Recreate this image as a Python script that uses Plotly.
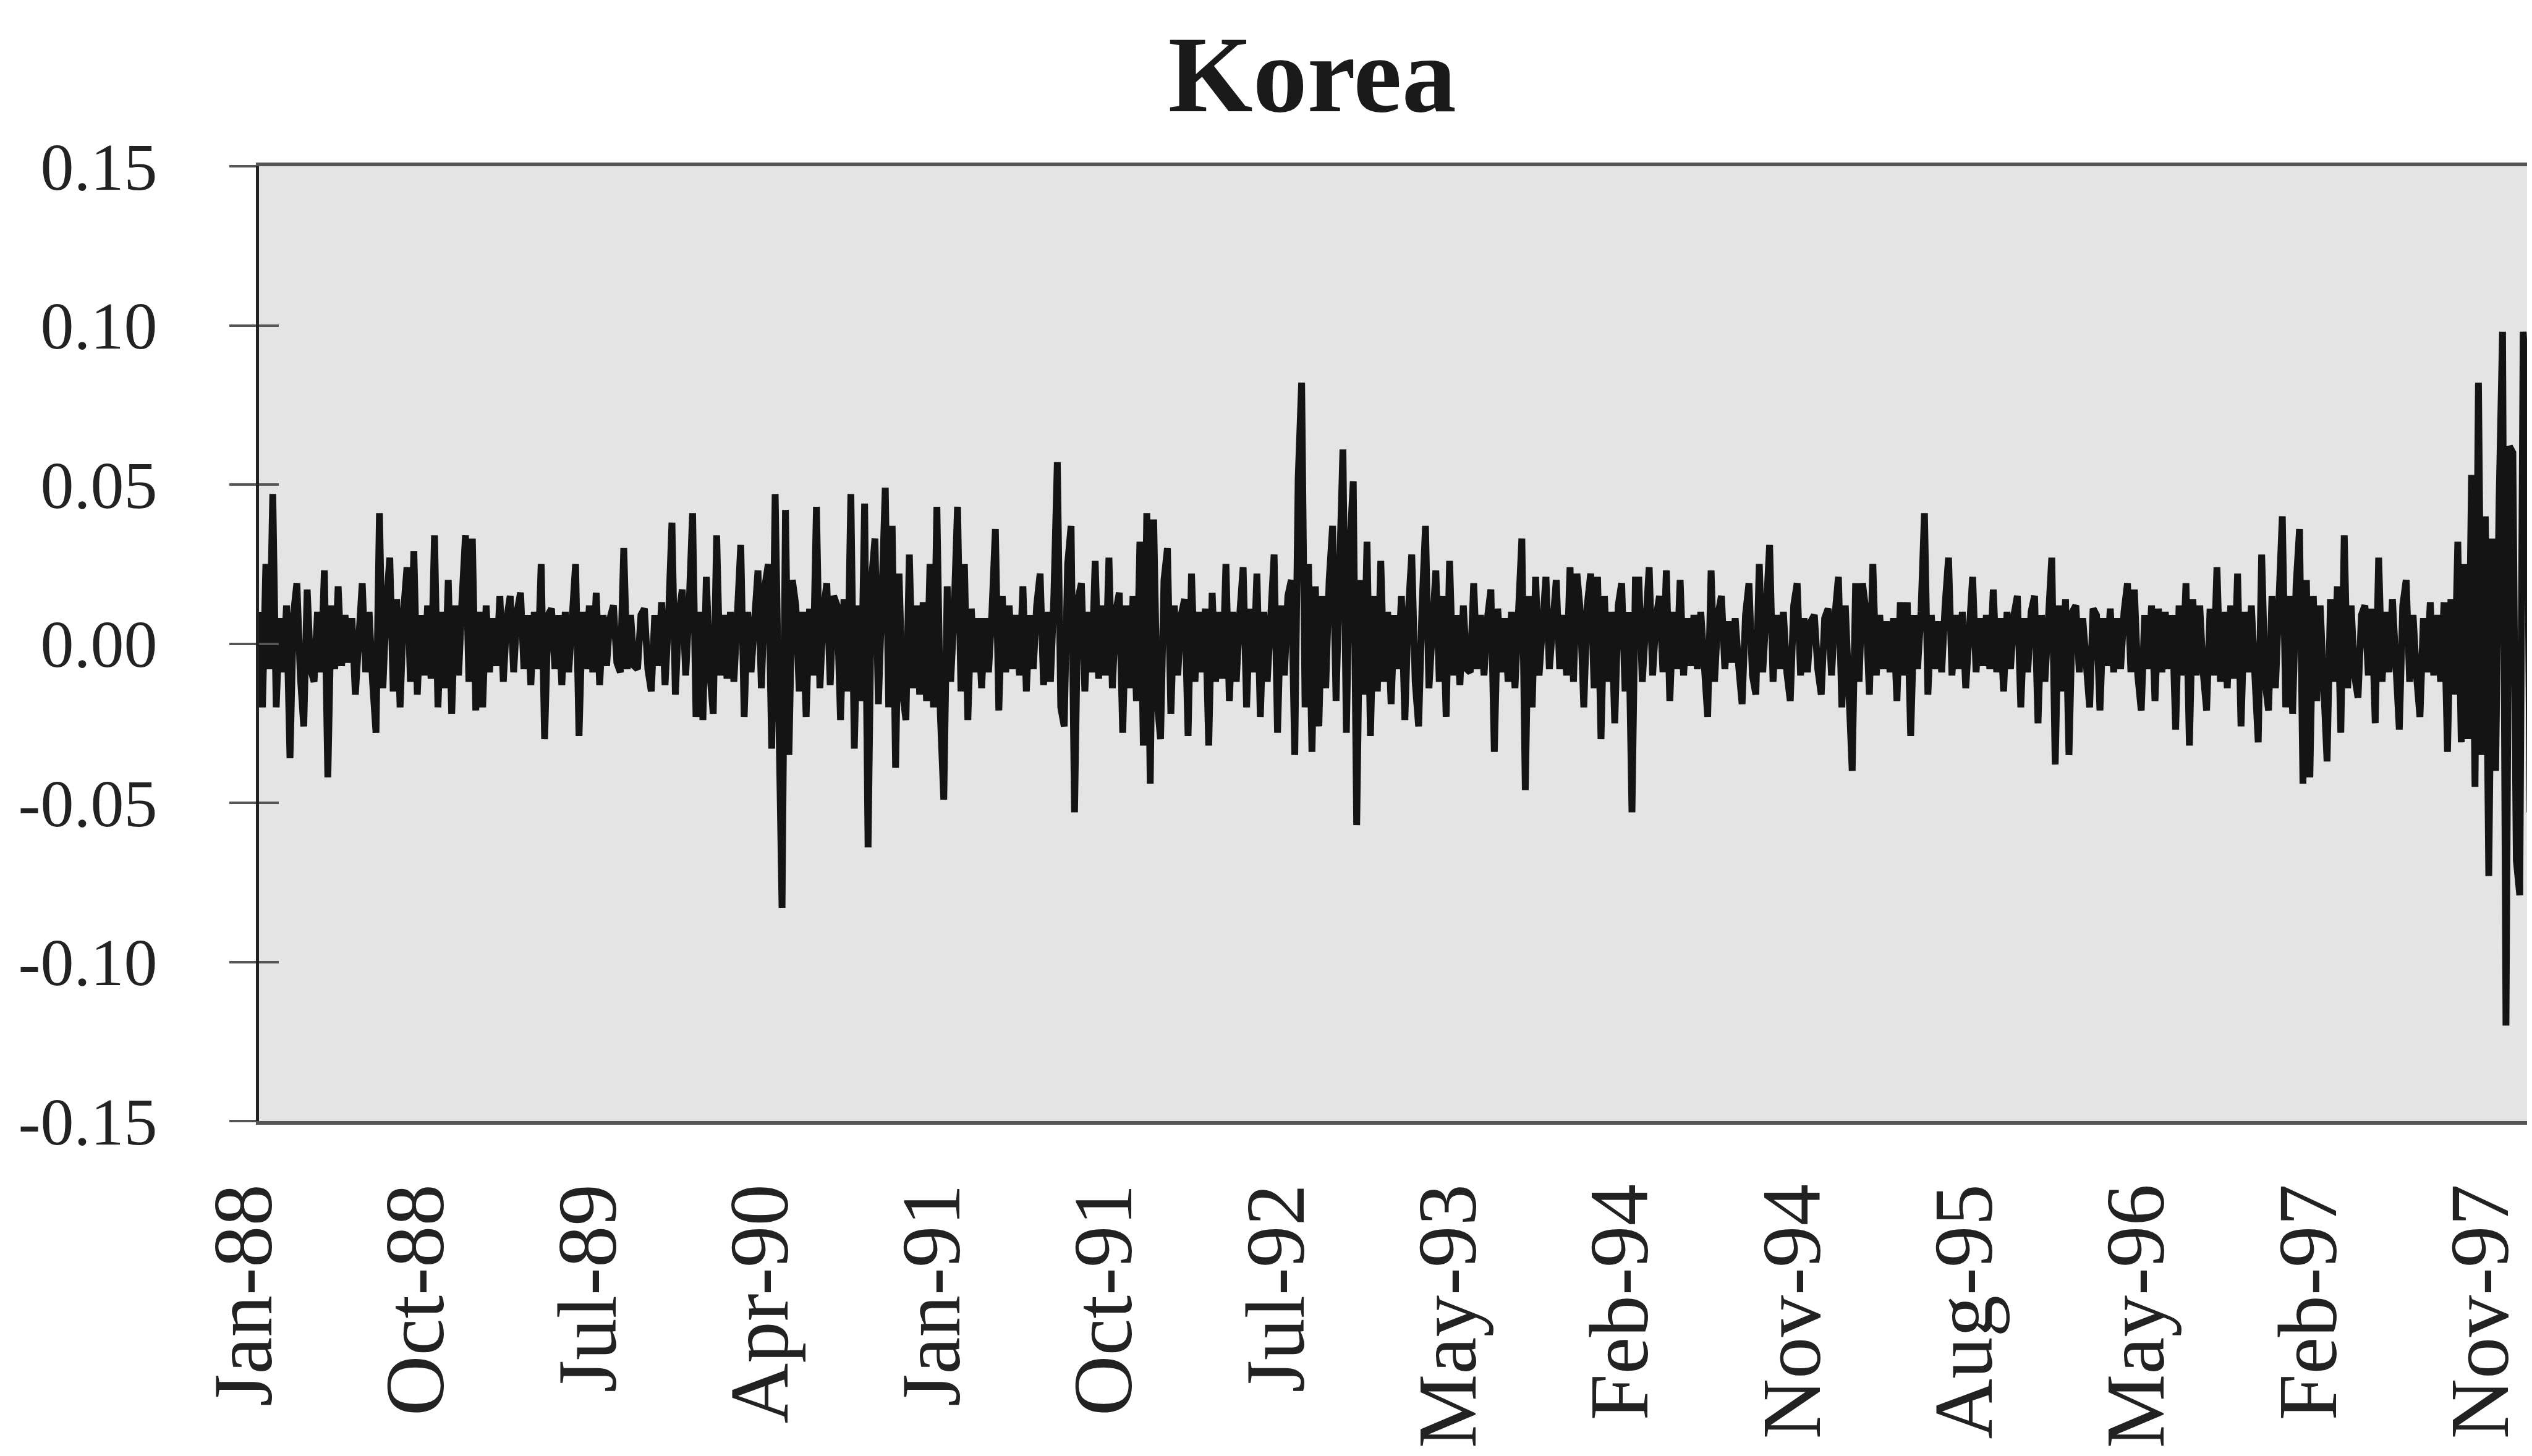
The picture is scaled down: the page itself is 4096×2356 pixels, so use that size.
import plotly.graph_objects as go

# Daily returns of the Korean market (in thousandths: 10 -> 0.010)
ret_thousandths = [
    10, -20, 25, -8, 47, -20, 8, -9, 12, -36, 9, 19, -10, -26, 17, -8, -12, 10, -9, 23,
    -42, 12, -8, 18, -7, 9, -6, 8, -16, 7, 19, -9, 10, -12, -28, 41, -14, 12, 27, -15,
    14, -20, 10, 24, -12, 29, -16, 9, -10, 12, -11, 34, -20, 10, -14, 20, -22, 12, -10, 14,
    34, -12, 33, -21, 10, -20, 12, -9, 8, -7, 15, -12, 8, 15, -9, 10, 16, -8, 9, -13,
    10, -8, 25, -30, 9, 11, -8, 9, -13, 10, -9, 8, 25, -29, 10, -8, 12, -9, 16, -13,
    9, -7, 8, 12, -6, -9, 30, -8, 9, -7, -8,
    9, 11, -8, -15, 9, -7, 13, -13, 8, 38, -16, 9, 17, -10, 12, 41, -23, 10, -24, 21,
    -9, -22, 34, -10, 9, -11, 10, -12, 9, 31, -23, 10, -9, 12, 23, -14, 18, 25, -33, 47,
    -28, -83, 42, -35, 20, 12, -15, 10, -23, 11, -10, 43, -14, 10, 19, -13, 15, 12, -24, 14,
    -15, 47, -33, 12, -18, 44, -64, 20, 33, -19, 14, 49, -20, 37, -39, 22, -15, -24, 28, -14,
    12, -16, 13, -18, 25, -20, 43, -22, -49, 18, -12, 10, 43, -15, 25, -24, 11, -9, 8, -14,
    8, -9, 10, 36, -21, 15, -9, 12, -8, 9,
    -10, 18, -15, 9, -8, 12, 22, -13, 10, -12, 15, 57, -20, -26, 25, 37, -53, 14, 19, -15,
    10, -9, 26, -11, 12, -10, 27, -14, 10, 16, -28, 12, -14, 15, -18, 32, -32, 41, -44, 39,
    -18, -30, 20, 30, -22, 12, -10, 9, 14, -29, 22, -12, 10, -9, 11, -32, 16, -12, 10, -11,
    25, -18, 10, -12, 9, 24, -20, 11, -9, 22, -23, 10, -12, 13, 28, -28, 12, -10, 15, 20,
    -35, 52, 82, -20, 25, -34, 18, -26, 15, -14, 20, 37, -18, 22, 61, -28, 30, 51, -57, 20,
    -16, 32, -29, 15, -15, 26, -12, 10, -19, 9,
    -8, 15, -24, 10, 28, -12, -26, 12, 37, -14, 10, 23, -12, 15, -23, 26, -10, 9, -13, 12,
    -8, -9, 19, -8, 9, -10, 8, 17, -34, 11, -9, 8, -12, 10, -14, 12, 33, -46, 15, -20,
    21, -10, 9, 21, -8, 7, 20, -8, 9, -10, 24, -12, 22, 10, -20, 12, 22, -14, 21, -30,
    15, -12, 10, -25, 12, 19, -15, 10, -53, 20, 20, -12, 9, 24, -10, 8, 15, -9, 23, -18,
    10, -8, 20, -10, 8, -7, 9, -8, 10, -9, -23, 23, -12, 9, 15, -8, 7, -6, 8, -7,
    -19, 9, 19, -10, -16, 25, -9, 10, 31, -12,
    9, -8, 10, -9, -18, 12, 19, -10, 8, -9, 7, 9, -8, -16, 8, 11, -10, 9, 21, -20,
    12, -14, -40, 19, -12, 19, 10, -16, 25, -10, 9, -8, 7, -9, 8, -18, 13, -10, 13, -29,
    9, -8, 10, 41, -16, 9, -8, 7, -9, 12, 27, -10, 9, -8, 10, -14, 8, 21, -9, 8,
    -7, 9, -8, 17, -9, 8, -15, 10, -8, 9, 15, -20, 8, -9, 10, 15, -25, 9, -12, 10,
    27, -38, 12, -15, 14, -35, 10, 12, -9, 8, -10, -20, 11, 9, -21, 8, -7, 11, -9, 8,
    -8, 10, 19, -9, 17, -10, -21, 9, -8, 12,
    -18, 11, -9, 10, -8, 9, -27, 12, -10, 19, -32, 14, -10, 12, -9, -21, 11, -10, 24, -12,
    10, -14, 12, -11, 22, -26, 10, -9, 12, -14, -31, 28, -12, -21, 15, -14, 12, 40, -20, 15,
    -22, 18, 36, -44, 20, -42, 15, -18, 12, -15, -37, 14, -12, 18, -28, 34, -14, 12, -10, -17,
    9, 12, -10, 11, -25, 27, -12, 10, -9, 14, -11, -27, 12, 20, -12, 9, -10, -23, 8, -9,
    13, -10, 9, -12, 13, -34, 14, -16, 32, -31, 25, -30, 53, -45, 82, -35, 40, -73, 33, -40,
    45, 98, -120, 62, 60, -68, -79, 98, 81, -53, 71, -40,
]
korea_returns = [v / 1000 for v in ret_thousandths]
obs_index = list(range(len(korea_returns)))

x_tick_positions = [0, 50, 100, 150, 200, 250, 300, 350, 400, 450, 500, 550, 600, 650]
x_tick_labels = ["Jan-88", "Oct-88", "Jul-89", "Apr-90", "Jan-91", "Oct-91", "Jul-92",
                 "May-93", "Feb-94", "Nov-94", "Aug-95", "May-96", "Feb-97", "Nov-97"]
y_tick_values = [-0.15, -0.10, -0.05, 0.00, 0.05, 0.10, 0.15]
y_tick_labels = ["-0.15", "-0.10", "-0.05", "0.00", "0.05", "0.10", "0.15"]

W, H = 4096, 2356
FONT = "Liberation Serif"

fig = go.Figure()
fig.add_trace(go.Scatter(
    x=obs_index, y=korea_returns, mode="lines",
    line=dict(color="#141414", width=11),
    showlegend=False, hoverinfo="skip",
))
# invisible trace on an overlay axis for inner half of the crossing y ticks
fig.add_trace(go.Scatter(x=[0], y=[0], yaxis="y2", mode="markers",
                         marker=dict(opacity=0), showlegend=False, hoverinfo="skip"))

fig.update_layout(
    width=W, height=H,
    margin=dict(l=411, r=0, t=261, b=550, pad=0, autoexpand=False),
    paper_bgcolor="white",
    plot_bgcolor="#e4e4e4",
    font=dict(family=FONT, color="#222222", size=135),
    title=dict(
        text="<b>Korea</b>",
        font=dict(family=FONT, size=176, color="#1a1a1a"),
        x=0.5163, xanchor="center", xref="container",
        y=1 - 110 / H, yanchor="middle", yref="container",
    ),
    xaxis=dict(
        range=[0, len(korea_returns) - 1], automargin=False,
        tickmode="array", tickvals=x_tick_positions, ticktext=x_tick_labels,
        tickangle=-90, ticks="", showgrid=False, zeroline=False,
        showline=True, linecolor="#555555", linewidth=6, mirror=True,
        ticklabelstandoff=42, ticklabelshift=-24,
        tickfont=dict(family=FONT, size=135, color="#222222"),
    ),
    yaxis=dict(
        range=[-0.15, 0.15], automargin=False,
        tickmode="array", tickvals=y_tick_values, ticktext=y_tick_labels,
        ticks="outside", ticklen=43, tickwidth=4, tickcolor="#555555",
        showgrid=False, zeroline=False,
        showline=True, linecolor="#222222", linewidth=5,
        ticklabelstandoff=95,
        tickfont=dict(family=FONT, size=108, color="#222222"),
    ),
    yaxis2=dict(
        range=[-0.15, 0.15], overlaying="y", side="left", anchor="x", automargin=False,
        tickmode="array", tickvals=y_tick_values,
        ticks="inside", ticklen=32, tickwidth=4, tickcolor="#555555",
        showticklabels=False, showgrid=False, zeroline=False, showline=False,
    ),
)

fig.write_html("out.html")
